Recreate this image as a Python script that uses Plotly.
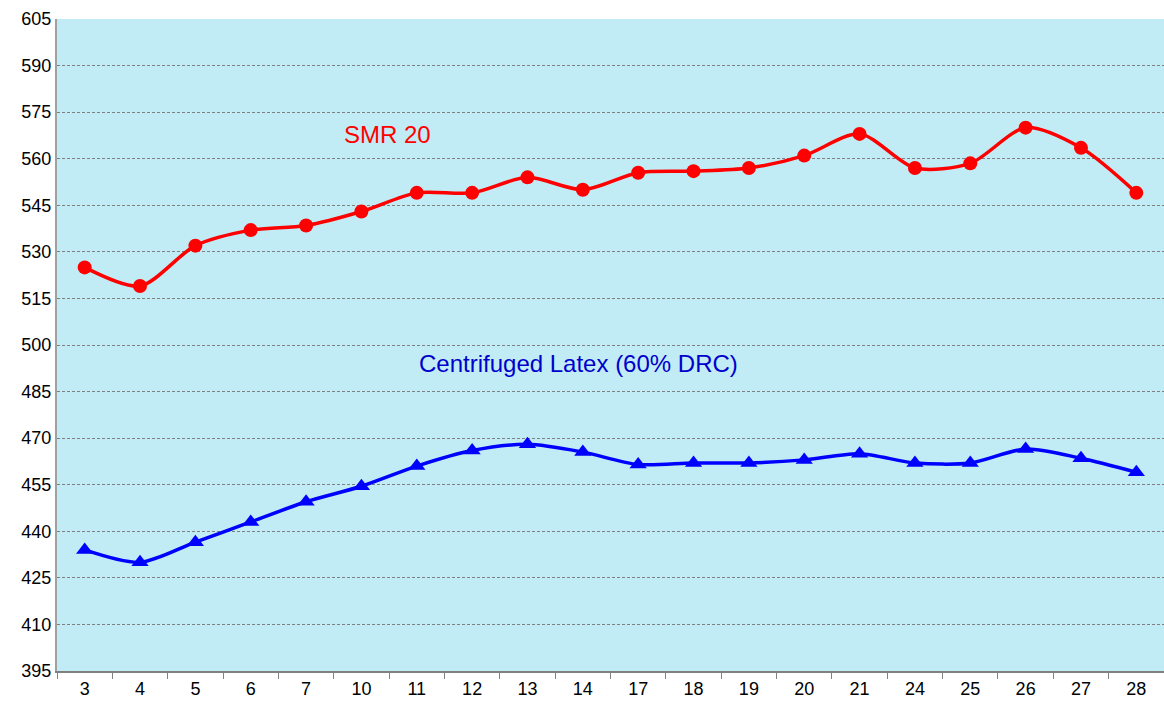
import plotly.graph_objects as go

categories = ["3", "4", "5", "6", "7", "10", "11", "12", "13", "14",
              "17", "18", "19", "20", "21", "24", "25", "26", "27", "28"]
smr20 = [525, 519, 532, 537, 538.5, 543, 549, 549, 554, 550,
         555.5, 556, 557, 561, 568, 557, 558.5, 570, 563.5, 549]
latex = [434, 430, 436.5, 443, 449.5, 454.5, 461, 466, 468, 465.5,
         461.5, 462, 462, 463, 465, 462, 462, 466.5, 463.5, 459]
y_ticks = list(range(395, 606, 15))

fig = go.Figure()
fig.add_trace(go.Scatter(
    x=categories, y=smr20, mode="lines+markers", name="SMR 20",
    line=dict(color="#FF0000", width=3.5, shape="spline", smoothing=0.8),
    marker=dict(symbol="circle", size=14, color="#FF0000"),
))
fig.add_trace(go.Scatter(
    x=categories, y=latex, mode="lines+markers", name="Centrifuged Latex (60% DRC)",
    line=dict(color="#0000FF", width=3.5, shape="spline", smoothing=0.8),
    marker=dict(symbol="triangle-up", size=15, color="#0000FF"),
))

fig.add_annotation(text="SMR 20", xref="paper", yref="y", x=0.2575, y=567.7,
                   showarrow=False, font=dict(color="#FF0000", size=24,
                                              family="Liberation Sans, Arial"))
fig.add_annotation(text="Centrifuged Latex (60% DRC)", xref="paper", yref="y",
                   x=0.3248, y=493.9, showarrow=False,
                   font=dict(color="#0000CC", size=24, family="Liberation Sans, Arial"))

fig.update_layout(
    width=1164, height=707,
    margin=dict(l=57, r=0, t=19, b=36, autoexpand=False),
    paper_bgcolor="white",
    plot_bgcolor="#C1ECF5",
    showlegend=False,
    font=dict(family="Liberation Sans, Arial", size=18, color="black"),
    xaxis=dict(
        type="category", range=[-0.5, len(categories) - 0.5], automargin=False,
        tickson="boundaries", ticks="outside", ticklen=6,
        tickcolor="#808080", showline=True, linecolor="#808080", linewidth=2,
        showgrid=False, tickfont=dict(size=18),
    ),
    yaxis=dict(
        range=[395, 605], tickvals=y_ticks, automargin=False, showline=True,
        linecolor="#A0A0A0", linewidth=2, showgrid=True, gridcolor="#808080",
        gridwidth=1, griddash="3px,2px", ticks="", zeroline=False,
        tickfont=dict(size=18),
    ),
)

fig.write_html("out.html", config={"responsive": False, "displayModeBar": False},
               post_script="document.body.style.margin='0';"
                           "document.body.style.overflow='hidden';")
